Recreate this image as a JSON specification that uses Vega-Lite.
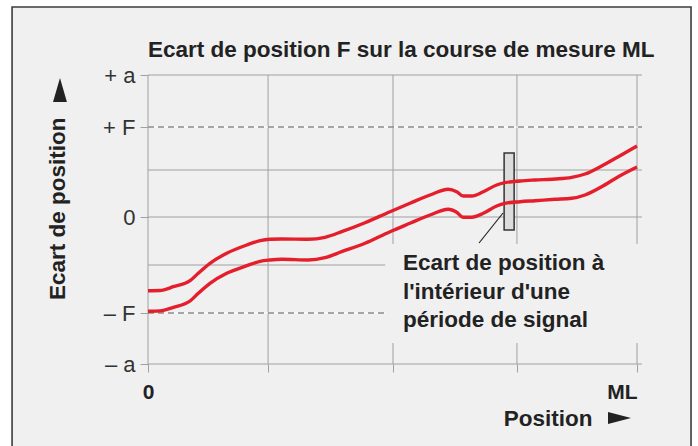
{
  "$schema": "https://vega.github.io/schema/vega-lite/v6.json",
  "width": 489,
  "height": 289,
  "autosize": {"type": "none"},
  "padding": {"left": 148, "top": 75, "right": 61, "bottom": 82},
  "background": "white",
  "config": {"view": {"stroke": null}, "font": "Liberation Sans"},
  "title": {
    "text": "Ecart de position F sur la course de mesure ML",
    "anchor": "start",
    "frame": "group",
    "font": "Liberation Sans",
    "fontSize": 22.5,
    "fontWeight": "bold",
    "color": "#222222",
    "baseline": "alphabetic",
    "offset": -73
  },
  "data": {"values": [{}]},
  "datasets": {
    "courbes": [
      {"serie": "haut", "x": 0, "y": -73.7},
      {"serie": "haut", "x": 0.098, "y": -73.5},
      {"serie": "haut", "x": 0.207, "y": -69.7},
      {"serie": "haut", "x": 0.344, "y": -63.7},
      {"serie": "haut", "x": 0.411, "y": -56.3},
      {"serie": "haut", "x": 0.507, "y": -46.3},
      {"serie": "haut", "x": 0.644, "y": -36.3},
      {"serie": "haut", "x": 0.808, "y": -28},
      {"serie": "haut", "x": 0.916, "y": -23.7},
      {"serie": "haut", "x": 0.998, "y": -22.3},
      {"serie": "haut", "x": 1.094, "y": -22},
      {"serie": "haut", "x": 1.311, "y": -22.3},
      {"serie": "haut", "x": 1.448, "y": -20.3},
      {"serie": "haut", "x": 1.584, "y": -14.7},
      {"serie": "haut", "x": 1.775, "y": -5.7},
      {"serie": "haut", "x": 1.98, "y": 5.3},
      {"serie": "haut", "x": 2.143, "y": 13.7},
      {"serie": "haut", "x": 2.307, "y": 22},
      {"serie": "haut", "x": 2.456, "y": 27.7},
      {"serie": "haut", "x": 2.525, "y": 25.3},
      {"serie": "haut", "x": 2.579, "y": 21},
      {"serie": "haut", "x": 2.648, "y": 21},
      {"serie": "haut", "x": 2.743, "y": 25.3},
      {"serie": "haut", "x": 2.852, "y": 32},
      {"serie": "haut", "x": 2.92, "y": 34.3},
      {"serie": "haut", "x": 3.043, "y": 36},
      {"serie": "haut", "x": 3.166, "y": 37},
      {"serie": "haut", "x": 3.329, "y": 38},
      {"serie": "haut", "x": 3.466, "y": 39.7},
      {"serie": "haut", "x": 3.575, "y": 43},
      {"serie": "haut", "x": 3.711, "y": 51},
      {"serie": "haut", "x": 3.847, "y": 60.3},
      {"serie": "haut", "x": 4, "y": 71},
      {"serie": "bas", "x": 0, "y": -94.3},
      {"serie": "bas", "x": 0.098, "y": -93.9},
      {"serie": "bas", "x": 0.207, "y": -90.3},
      {"serie": "bas", "x": 0.344, "y": -84},
      {"serie": "bas", "x": 0.411, "y": -76.3},
      {"serie": "bas", "x": 0.507, "y": -66.3},
      {"serie": "bas", "x": 0.644, "y": -56.3},
      {"serie": "bas", "x": 0.808, "y": -48.7},
      {"serie": "bas", "x": 0.916, "y": -44.3},
      {"serie": "bas", "x": 0.998, "y": -43},
      {"serie": "bas", "x": 1.094, "y": -42.3},
      {"serie": "bas", "x": 1.311, "y": -43},
      {"serie": "bas", "x": 1.448, "y": -40.7},
      {"serie": "bas", "x": 1.584, "y": -34.7},
      {"serie": "bas", "x": 1.775, "y": -26.3},
      {"serie": "bas", "x": 1.98, "y": -14.7},
      {"serie": "bas", "x": 2.143, "y": -6.3},
      {"serie": "bas", "x": 2.307, "y": 2},
      {"serie": "bas", "x": 2.456, "y": 7.7},
      {"serie": "bas", "x": 2.525, "y": 4.7},
      {"serie": "bas", "x": 2.579, "y": -0.3},
      {"serie": "bas", "x": 2.648, "y": -0.3},
      {"serie": "bas", "x": 2.743, "y": 3.7},
      {"serie": "bas", "x": 2.852, "y": 11},
      {"serie": "bas", "x": 2.92, "y": 13.7},
      {"serie": "bas", "x": 3.043, "y": 15.3},
      {"serie": "bas", "x": 3.166, "y": 16.3},
      {"serie": "bas", "x": 3.329, "y": 17.7},
      {"serie": "bas", "x": 3.466, "y": 18.7},
      {"serie": "bas", "x": 3.575, "y": 22},
      {"serie": "bas", "x": 3.711, "y": 30.3},
      {"serie": "bas", "x": 3.847, "y": 40.3},
      {"serie": "bas", "x": 4, "y": 50}
    ],
    "grilleX": [{"x": 0}, {"x": 0.982}, {"x": 2.004}, {"x": 3.018}, {"x": 4}],
    "grilleY": [{"y": 142}, {"y": 47}, {"y": 0}, {"y": -48}, {"y": -147}],
    "limitesF": [{"y": 90}, {"y": -96}]
  },
  "layer": [
    {
      "mark": {"type": "rect", "fill": "#f0f0f0", "stroke": "#3c3c3c", "strokeWidth": 1.6},
      "encoding": {
        "x": {"datum": -1.112, "type": "quantitative", "scale": {"domain": [0, 4], "nice": false, "zero": false}},
        "x2": {"datum": 4.442},
        "y": {"datum": 210, "type": "quantitative", "scale": {"domain": [-147, 142], "nice": false, "zero": false}},
        "y2": {"datum": -260}
      }
    },
    {
      "data": {"name": "grilleX"},
      "mark": {"type": "rule", "color": "#a0a0a0", "strokeWidth": 1},
      "encoding": {
        "x": {"field": "x", "type": "quantitative", "scale": {"domain": [0, 4], "nice": false, "zero": false}}
      }
    },
    {
      "data": {"name": "grilleY"},
      "mark": {"type": "rule", "color": "#a0a0a0", "strokeWidth": 1},
      "encoding": {
        "y": {"field": "y", "type": "quantitative", "scale": {"domain": [-147, 142], "nice": false, "zero": false}},
        "x": {"datum": 0, "type": "quantitative", "scale": {"domain": [0, 4], "nice": false, "zero": false}},
        "x2": {"datum": 4.041}
      }
    },
    {
      "data": {"name": "limitesF"},
      "mark": {"type": "rule", "color": "#ffffff", "strokeWidth": 1.2},
      "encoding": {
        "y": {"field": "y", "type": "quantitative", "scale": {"domain": [-147, 142], "nice": false, "zero": false}},
        "x": {"datum": 0, "type": "quantitative", "scale": {"domain": [0, 4], "nice": false, "zero": false}},
        "x2": {"datum": 4.041}
      }
    },
    {
      "data": {"name": "limitesF"},
      "mark": {"type": "rule", "color": "#555555", "strokeWidth": 1.2, "strokeDash": [6, 4]},
      "encoding": {
        "y": {"field": "y", "type": "quantitative", "scale": {"domain": [-147, 142], "nice": false, "zero": false}},
        "x": {"datum": 0, "type": "quantitative", "scale": {"domain": [0, 4], "nice": false, "zero": false}},
        "x2": {"datum": 4.041}
      }
    },
    {
      "mark": {"type": "rect", "fill": "#f0f0f0"},
      "encoding": {
        "x": {"datum": 1.94, "type": "quantitative", "scale": {"domain": [0, 4], "nice": false, "zero": false}},
        "x2": {"datum": 4.1},
        "y": {"datum": -27, "type": "quantitative", "scale": {"domain": [-147, 142], "nice": false, "zero": false}},
        "y2": {"datum": -126}
      }
    },
    {
      "mark": {"type": "rect", "fill": "#dcdcdc", "stroke": "#333333", "strokeWidth": 1.5},
      "encoding": {
        "x": {"datum": 2.913, "type": "quantitative", "scale": {"domain": [0, 4], "nice": false, "zero": false}},
        "x2": {"datum": 2.995},
        "y": {"datum": 64, "type": "quantitative", "scale": {"domain": [-147, 142], "nice": false, "zero": false}},
        "y2": {"datum": -13}
      }
    },
    {
      "data": {"name": "courbes"},
      "mark": {"type": "line", "color": "#e41e2b", "strokeWidth": 3.4, "interpolate": "monotone"},
      "encoding": {
        "x": {
          "field": "x", "type": "quantitative",
          "scale": {"domain": [0, 4], "nice": false, "zero": false},
          "axis": {
            "values": [0, 0.982, 2.004, 3.018, 4],
            "labelExpr": "datum.value == 0 ? '0' : datum.value == 4 ? 'ML' : ''",
            "labelAlign": {"condition": {"test": "datum.value == 4", "value": "right"}, "value": "center"},
            "labelBaseline": "alphabetic",
            "labelPadding": 26,
            "labelFont": "Liberation Sans",
            "labelFontSize": 21,
            "labelFontWeight": "bold",
            "labelColor": "#222222",
            "labelOverlap": false,
            "tickSize": 8,
            "tickColor": "#a0a0a0",
            "tickWidth": 1,
            "domain": false,
            "grid": false,
            "zindex": 1,
            "title": "Position",
            "titleFont": "Liberation Sans",
            "titleFontSize": 22.5,
            "titleFontWeight": "bold",
            "titleColor": "#222222",
            "titleAlign": "right",
            "titleBaseline": "alphabetic",
            "titleX": 444,
            "titleY": 61
          }
        },
        "y": {
          "field": "y", "type": "quantitative",
          "scale": {"domain": [-147, 142], "nice": false, "zero": false},
          "axis": {
            "values": [142, 90, 0, -96, -147],
            "labelExpr": "datum.value == 142 ? '+ a' : datum.value == 90 ? '+ F' : datum.value == 0 ? '0' : datum.value == -96 ? '– F' : '– a'",
            "labelFont": "Liberation Sans",
            "labelFontSize": 22,
            "labelColor": "#333333",
            "labelPadding": 5,
            "labelBaseline": "middle",
            "labelOverlap": false,
            "labelBound": false,
            "tickSize": 8,
            "tickColor": "#a0a0a0",
            "tickWidth": 1,
            "domain": false,
            "grid": false,
            "zindex": 1,
            "title": "Ecart de position",
            "titleFont": "Liberation Sans",
            "titleFontSize": 22.5,
            "titleFontWeight": "bold",
            "titleColor": "#222222",
            "titleAngle": 270,
            "titleAlign": "right",
            "titleBaseline": "alphabetic",
            "titleX": -84,
            "titleY": 42
          }
        },
        "detail": {"field": "serie", "type": "nominal"}
      }
    },
    {
      "mark": {"type": "rule", "color": "#222222", "strokeWidth": 1.2},
      "encoding": {
        "x": {"datum": 2.904, "type": "quantitative", "scale": {"domain": [0, 4], "nice": false, "zero": false}},
        "x2": {"datum": 2.708},
        "y": {"datum": 4, "type": "quantitative", "scale": {"domain": [-147, 142], "nice": false, "zero": false}},
        "y2": {"datum": -26}
      }
    },
    {
      "mark": {"type": "text", "align": "left", "baseline": "alphabetic", "lineHeight": 28.5, "font": "Liberation Sans", "fontSize": 22.5, "fontWeight": "bold", "color": "#222222"},
      "encoding": {
        "x": {"datum": 2.086, "type": "quantitative", "scale": {"domain": [0, 4], "nice": false, "zero": false}},
        "y": {"datum": -53, "type": "quantitative", "scale": {"domain": [-147, 142], "nice": false, "zero": false}},
        "text": {"value": ["Ecart de position à", "l'intérieur d'une", "période de signal"]}
      }
    },
    {
      "mark": {"type": "point", "shape": "M-1,-0.52L1,0L-1,0.52Z", "size": 529, "filled": true, "color": "#222222", "opacity": 1},
      "encoding": {
        "x": {"datum": 3.857, "type": "quantitative", "scale": {"domain": [0, 4], "nice": false, "zero": false}},
        "y": {"datum": -201, "type": "quantitative", "scale": {"domain": [-147, 142], "nice": false, "zero": false}}
      }
    },
    {
      "mark": {"type": "point", "shape": "M-0.58,1L0,-1L0.58,1Z", "size": 576, "filled": true, "color": "#222222", "opacity": 1},
      "encoding": {
        "x": {"datum": -0.72, "type": "quantitative", "scale": {"domain": [0, 4], "nice": false, "zero": false}},
        "y": {"datum": 127, "type": "quantitative", "scale": {"domain": [-147, 142], "nice": false, "zero": false}}
      }
    }
  ]
}
